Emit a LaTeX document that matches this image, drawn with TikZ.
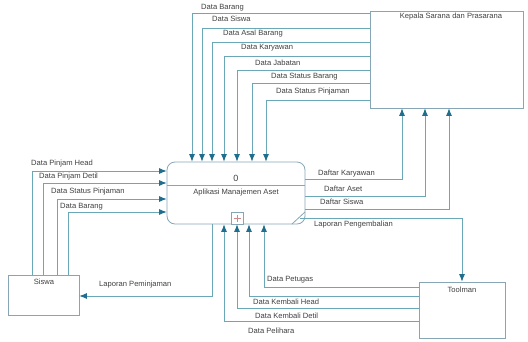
\documentclass[tikz,border=0pt]{standalone}
\usepackage{fontspec}
\setmainfont{Liberation Sans}
\usetikzlibrary{arrows.meta}
\definecolor{linec}{HTML}{6AA7B7}
\definecolor{arrowc}{HTML}{1F6E8E}
\definecolor{boxc}{HTML}{86A6B5}
\definecolor{txtc}{HTML}{404040}
\definecolor{plusc}{HTML}{D08A8A}
\tikzset{
  flow/.style={draw=linec, line width=0.8pt, -{Latex[length=7.5pt,width=6pt,color=arrowc]}},
  ent/.style={draw=boxc, line width=0.8pt, rectangle, inner sep=0pt},
  lbl/.style={anchor=west, inner sep=0pt, text=txtc, font=\fontsize{7.6}{9}\selectfont},
  ttl/.style={inner sep=0pt, text=txtc, font=\fontsize{7.6}{9}\selectfont}
}
\begin{document}
\begin{tikzpicture}[x=1pt,y=-1pt]
\useasboundingbox (0,0) rectangle (528,341);
% boxes
\node[ent, minimum width=153pt, minimum height=97pt] (kepala) at (446.5,59.5) {};
\node[ttl] (kepalat) at (451,17) {Kepala Sarana dan Prasarana};
\node[ent, rounded corners=8pt, minimum width=138pt, minimum height=62pt] (proc) at (236,193) {};
\node[ttl, font=\fontsize{9}{10}\selectfont] (procn) at (236,178.5) {0};
\node[ttl] (proct) at (236,193) {Aplikasi Manajemen Aset};
\draw[draw=boxc, line width=0.8pt] (proc.west |- 0,185) -- (proc.east |- 0,185);
\draw[draw=boxc, line width=0.8pt] (292,224) -- (305,212);
\node[ent, minimum width=12pt, minimum height=12pt, fill=white] (plus) at (237,218) {};
\draw[draw=plusc, line width=0.6pt] ([yshift=-3.5pt]plus.center) -- ([yshift=3.5pt]plus.center)
  ([xshift=-3.5pt]plus.center) -- ([xshift=3.5pt]plus.center);
\node[ent, minimum width=71pt, minimum height=40pt] (siswa) at (43.5,295) {};
\node[ttl] (siswat) at (44,282) {Siswa};
\node[ent, minimum width=86pt, minimum height=56pt] (toolman) at (462,310) {};
\node[ttl] (toolmant) at (462,290) {Toolman};
% top flows from Kepala
\draw[flow] (kepala.west |- 0,13) -| (proc.north -| 192,0);
\draw[flow] (kepala.west |- 0,28) -| (proc.north -| 202,0);
\draw[flow] (kepala.west |- 0,42) -| (proc.north -| 212,0);
\draw[flow] (kepala.west |- 0,56) -| (proc.north -| 224,0);
\draw[flow] (kepala.west |- 0,70) -| (proc.north -| 237,0);
\draw[flow] (kepala.west |- 0,83) -| (proc.north -| 252,0);
\draw[flow] (kepala.west |- 0,100) -| (proc.north -| 266,0);
\node[lbl] (l1) at (201,8) {Data Barang};
\node[lbl] (l2) at (212,18.5) {Data Siswa};
\node[lbl] (l3) at (223,34) {Data Asal Barang};
\node[lbl] (l4) at (241,48) {Data Karyawan};
\node[lbl] (l5) at (255,62.5) {Data Jabatan};
\node[lbl] (l6) at (271,77) {Data Status Barang};
\node[lbl] (l7) at (276,92) {Data Status Pinjaman};
% left flows from Siswa
\draw[flow] (siswa.north -| 32,0) |- (proc.west |- 0,171);
\draw[flow] (siswa.north -| 43,0) |- (proc.west |- 0,183);
\draw[flow] (siswa.north -| 57,0) |- (proc.west |- 0,199);
\draw[flow] (siswa.north -| 68,0) |- (proc.west |- 0,212);
\node[lbl] (s1) at (31,164) {Data Pinjam Head};
\node[lbl] (s2) at (39,177) {Data Pinjam Detil};
\node[lbl] (s3) at (51,192) {Data Status Pinjaman};
\node[lbl] (s4) at (60,207) {Data Barang};
\draw[flow] (proc.south -| 212,0) |- (siswa.east |- 0,296);
\node[lbl] (lp) at (99,285) {Laporan Peminjaman};
% right flows to Kepala
\draw[flow] (proc.east |- 0,179) -| (kepala.south -| 402,0);
\draw[flow] (proc.east |- 0,196) -| (kepala.south -| 425,0);
\draw[flow] (proc.east |- 0,209) -| (kepala.south -| 449,0);
\node[lbl] (d1) at (318,174) {Daftar Karyawan};
\node[lbl] (d2) at (324,189) {Daftar Aset};
\node[lbl] (d3) at (320,202) {Daftar Siswa};
\coordinate (lpg) at (300,218);
\draw[flow] (lpg) -| (toolman.north);
\node[lbl] (d4) at (314,224.5) {Laporan Pengembalian};
% bottom flows from Toolman
\draw[flow] (toolman.west |- 0,287) -| (proc.south -| 264,0);
\draw[flow] (toolman.west |- 0,296) -| (proc.south -| 249,0);
\draw[flow] (toolman.west |- 0,308) -| (proc.south -| 237,0);
\draw[flow] (toolman.west |- 0,321) -| (proc.south -| 224,0);
\node[lbl] (t1) at (267,280) {Data Petugas};
\node[lbl] (t2) at (253,302) {Data Kembali Head};
\node[lbl] (t3) at (255,316) {Data Kembali Detil};
\node[lbl] (t4) at (248,331) {Data Pelihara};
\end{tikzpicture}
\end{document}
